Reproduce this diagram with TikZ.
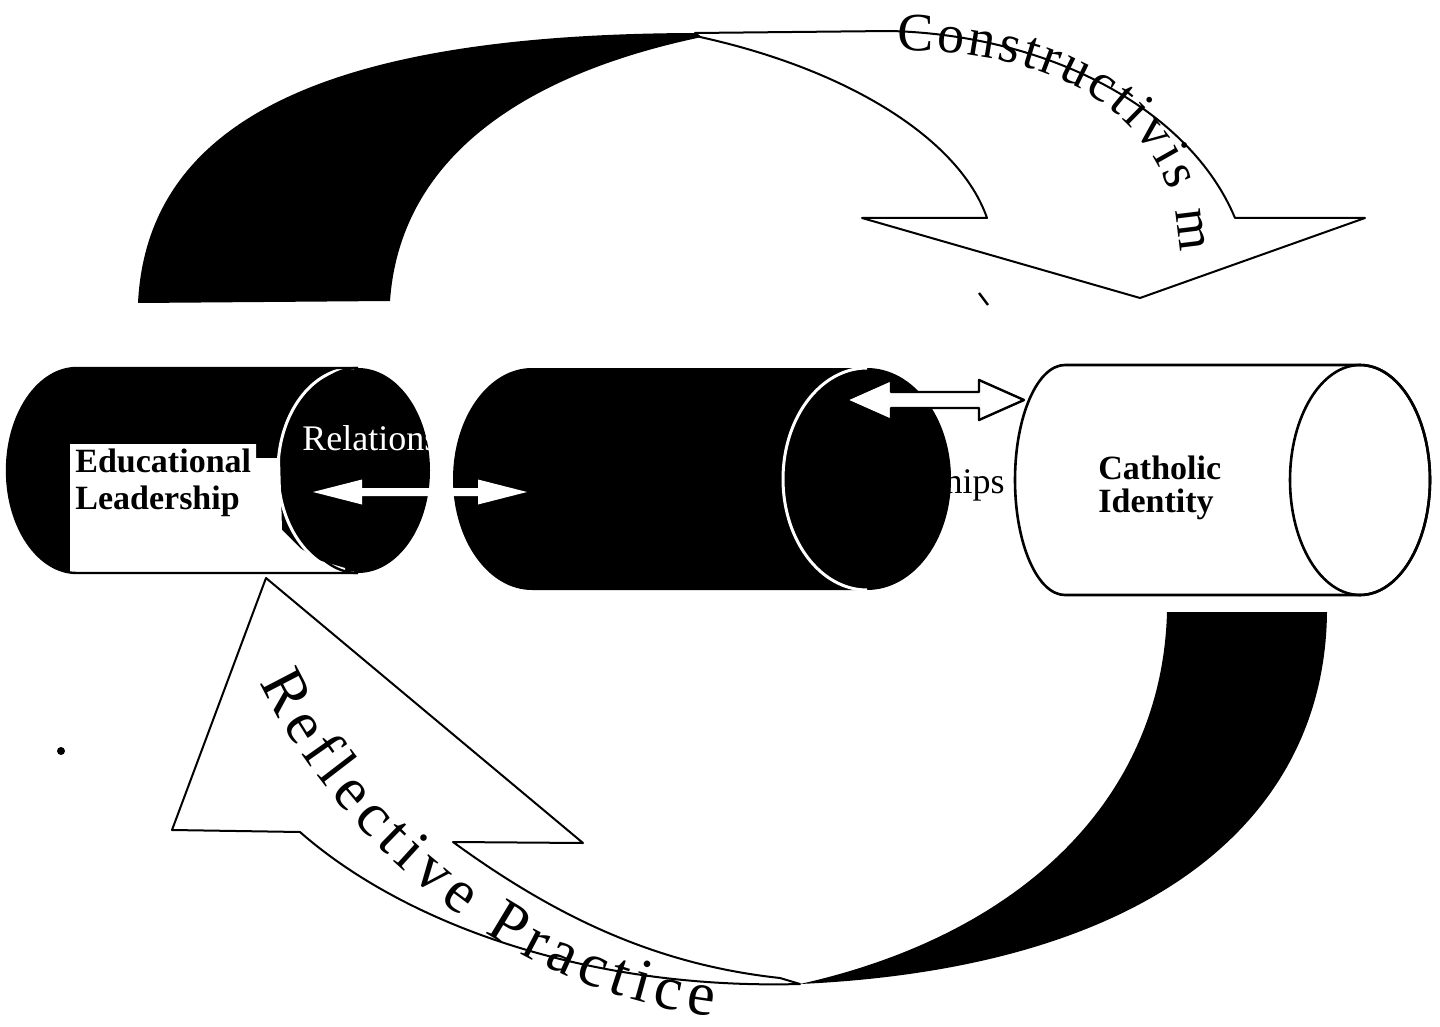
\documentclass[tikz,border=0pt]{standalone}
\usepackage{fontspec}
\setmainfont{Liberation Serif}
\usetikzlibrary{decorations.text}
\newcommand\myconfont{\fontsize{27}{27}\selectfont}
\newcommand\myreffont{\fontsize{31}{31}\selectfont}
% block double arrow: x1, x2, y, head length, head half width, shaft half width, style
\newcommand\mydblarrow[7]{\filldraw[#7] (#1,#3) -- (#1+#4,#3-#5) -- (#1+#4,#3-#6) -- (#2-#4,#3-#6) -- (#2-#4,#3-#5) -- (#2,#3) -- (#2-#4,#3+#5) -- (#2-#4,#3+#6) -- (#1+#4,#3+#6) -- (#1+#4,#3+#5) -- cycle;}
\begin{document}
\begin{tikzpicture}[x=0.5pt,y=-0.5pt,line join=round,
  bandline/.style={fill=white,draw=black,line width=1pt},
  cylout/.style={draw=black,line width=1.3pt},
  boldlabel/.style={inner sep=0pt,align=left,font=\fontsize{17}{18.5}\selectfont\bfseries},
  rellabel/.style={inner sep=0pt,font=\fontsize{18}{18}\selectfont}]
\useasboundingbox (0,0) rectangle (1440,1027);
\fill[white] (0,0) rectangle (1440,1027);

% ---- upper twisted arrow (Constructivism)
\filldraw[bandline] (695,33) -- (890,31) .. controls (1050,35) and (1190,110) .. (1235,218)
  -- (1365,218) -- (1140,298) -- (862,218) -- (987,218)
  .. controls (960,140) and (850,70) .. (700,37) -- cycle;
\fill[black] (138,303) .. controls (148,100) and (370,34) .. (695,33)
  -- (702,37) .. controls (520,75) and (400,160) .. (390,301) -- cycle;

% ---- lower twisted arrow (Reflective Practice)
\filldraw[bandline] (800,984) .. controls (580,990) and (400,920) .. (300,832)
  -- (172,830) -- (266,578) -- (583,843) -- (453,842)
  .. controls (560,920) and (660,965) .. (780,978) -- cycle;
\fill[black] (1167,612) -- (1327,612) .. controls (1325,820) and (1150,968) .. (800,984)
  .. controls (1020,935) and (1162,800) .. (1167,612) -- cycle;

% ---- left cylinder
\fill[black] (358,368) -- (77,368) arc[start angle=270,end angle=90,x radius=70,y radius=102.5]
  -- (358,573) arc[start angle=90,end angle=-90,x radius=72,y radius=102.5] -- cycle;
\fill[white] (70,444) -- (256,444) -- (256,458) -- (280,458) -- (282,530) -- (300,548)
  -- (318,560) -- (345,568) -- (345,573) -- (70,573) -- cycle;
\draw[white,line width=1.5pt] (354,573) arc[start angle=90,end angle=270,x radius=76,y radius=102.5];
\draw[black,line width=1.2pt] (358,573) arc[start angle=90,end angle=270,x radius=70,y radius=102.5];
\draw[black,line width=1.2pt] (358,368) -- (77,368) arc[start angle=270,end angle=90,x radius=70,y radius=102.5]
  -- (358,573);

\node[rellabel,text=white,anchor=base west] (rel1) at (302,450) {Relationships};
\node[rellabel,anchor=base east] (rel2) at (1005,493) {Relationships};

% ---- middle cylinder
\fill[black] (867,368) -- (532,368) arc[start angle=270,end angle=90,x radius=79,y radius=111]
  -- (867,590) arc[start angle=90,end angle=-90,x radius=84,y radius=111] -- cycle;
\draw[white,line width=1.5pt] (867,590) arc[start angle=90,end angle=270,x radius=84,y radius=111];

% ---- right cylinder
\filldraw[fill=white,cylout] (1360,365) -- (1065,365) arc[start angle=270,end angle=90,x radius=50,y radius=115]
  -- (1360,595) arc[start angle=90,end angle=-90,x radius=70,y radius=115] -- cycle;
\draw[cylout] (1360,480) ellipse[x radius=70,y radius=115];

% ---- double arrows
\mydblarrow{313}{527}{492}{49}{12.5}{4}{fill=white,draw=none}
\mydblarrow{846}{1024}{400}{45}{20}{8}{fill=white,draw=black,line width=1.2pt}

% ---- labels
\node[boldlabel,anchor=north west] (edu) at (75,449) {Educational\\Leadership};
\node[boldlabel,anchor=north west,font=\fontsize{17}{16.5}\selectfont\bfseries] (cath) at (1098,456) {Catholic\\Identity};

\path[decorate,decoration={text along path,text align={fit to path},
  text={|\myconfont|Constructivis m}}]
  (897,51) .. controls (1050,48) and (1176,112) .. (1180,252);
\path[decorate,decoration={text along path,text align={fit to path},
  text={|\myreffont|Reflective Practice}}]
  (260,682) .. controls (325,822) and (495,990) .. (712,1016);

% ---- stray marks
\fill[black] (61,751) circle[radius=4];
\draw[black,line width=1.2pt] (979,293) -- (988,305);
\end{tikzpicture}
\end{document}
